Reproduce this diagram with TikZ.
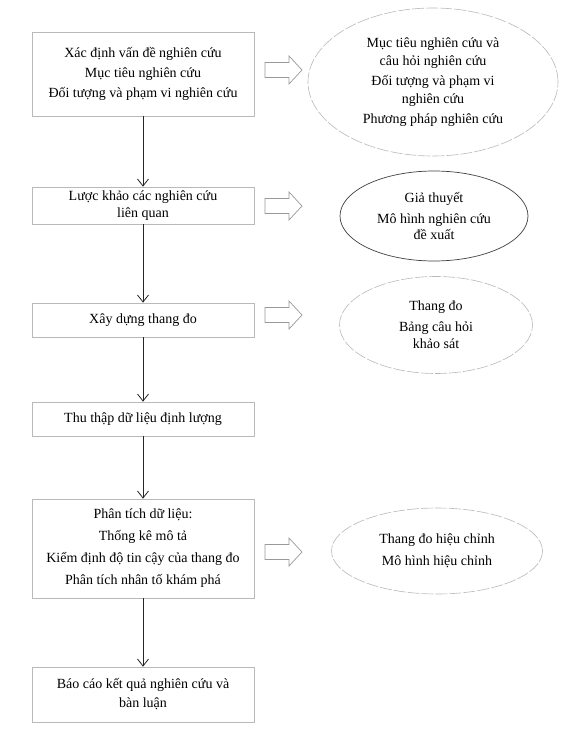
\documentclass[tikz,border=0pt]{standalone}
\usepackage{fontspec}
\setmainfont{Liberation Serif}
\usetikzlibrary{arrows.meta,shapes.geometric}
\newcommand\myharrow[1]{\draw[hollow] (265,#1-7.5) -- (289,#1-7.5) -- (289,#1-14) -- (302,#1) -- (289,#1+14) -- (289,#1+7.5) -- (265,#1+7.5) -- cycle;}
\begin{document}
\begin{tikzpicture}[x=1pt,y=-1pt,
  box/.style={draw=gray!55, line width=0.7pt, rectangle, minimum width=222pt, align=center, inner sep=0pt, font=\fontsize{14}{20}\selectfont},
  oval/.style={ellipse, draw=gray!55, line width=0.6pt, dash pattern=on 12pt off 2pt, align=center, inner sep=0pt, font=\fontsize{14}{18}\selectfont},
  solidoval/.style={oval, draw=black!75, solid, line width=0.7pt},
  flow/.style={draw=black!85, line width=0.8pt, -{Straight Barb[length=7pt,width=11pt]}},
  hollow/.style={draw=gray!80, line width=0.7pt, fill=white}]
\useasboundingbox[fill=white] (0,0) rectangle (571,741);

\node[box, minimum height=84pt] (b1) at (143,74) {Xác định vấn đề nghiên cứu\\Mục tiêu nghiên cứu\\Đối tượng và phạm vi nghiên cứu};
\node[box, minimum height=37pt, font=\fontsize{14}{17}\selectfont] (b2) at (143,205.5) {Lược khảo các nghiên cứu\\liên quan};
\node[box, minimum height=34pt] (b3) at (143,320) {Xây dựng thang đo};
\node[box, minimum height=34pt] (b4) at (143,419) {Thu thập dữ liệu định lượng};
\node[box, minimum height=99pt, font=\fontsize{14}{22}\selectfont] (b5) at (143,548.5) {Phân tích dữ liệu:\\Thống kê mô tả\\Kiểm định độ tin cậy của thang đo\\Phân tích nhân tố khám phá};
\node[box, minimum height=55pt, font=\fontsize{14}{19}\selectfont] (b6) at (143,694.5) {Báo cáo kết quả nghiên cứu và\\bàn luận};

\node[oval, minimum width=250pt, minimum height=148pt] (e1) at (433,82) {Mục tiêu nghiên cứu và\\câu hỏi nghiên cứu\\[2pt]Đối tượng và phạm vi\\nghiên cứu\\[2pt]Phương pháp nghiên cứu};
\node[solidoval, minimum width=188pt, minimum height=90pt, font=\fontsize{14}{16}\selectfont] (e2) at (434,216) {Giả thuyết\\[5pt]Mô hình nghiên cứu\\đề xuất};
\node[oval, minimum width=193pt, minimum height=97pt, font=\fontsize{14}{17}\selectfont] (e3) at (436,325) {Thang đo\\[4pt]Bảng câu hỏi\\khảo sát};
\node[oval, minimum width=211pt, minimum height=86pt, font=\fontsize{14}{22}\selectfont] (e4) at (437,551) {Thang đo hiệu chỉnh\\Mô hình hiệu chỉnh};

\myharrow{70}
\myharrow{206}
\myharrow{315}
\myharrow{552}

\draw[flow] (b1) -- (b2);
\draw[flow] (b2) -- (b3);
\draw[flow] (b3) -- (b4);
\draw[flow] (b4) -- (b5);
\draw[flow] (b5) -- (b6);
\end{tikzpicture}
\end{document}
